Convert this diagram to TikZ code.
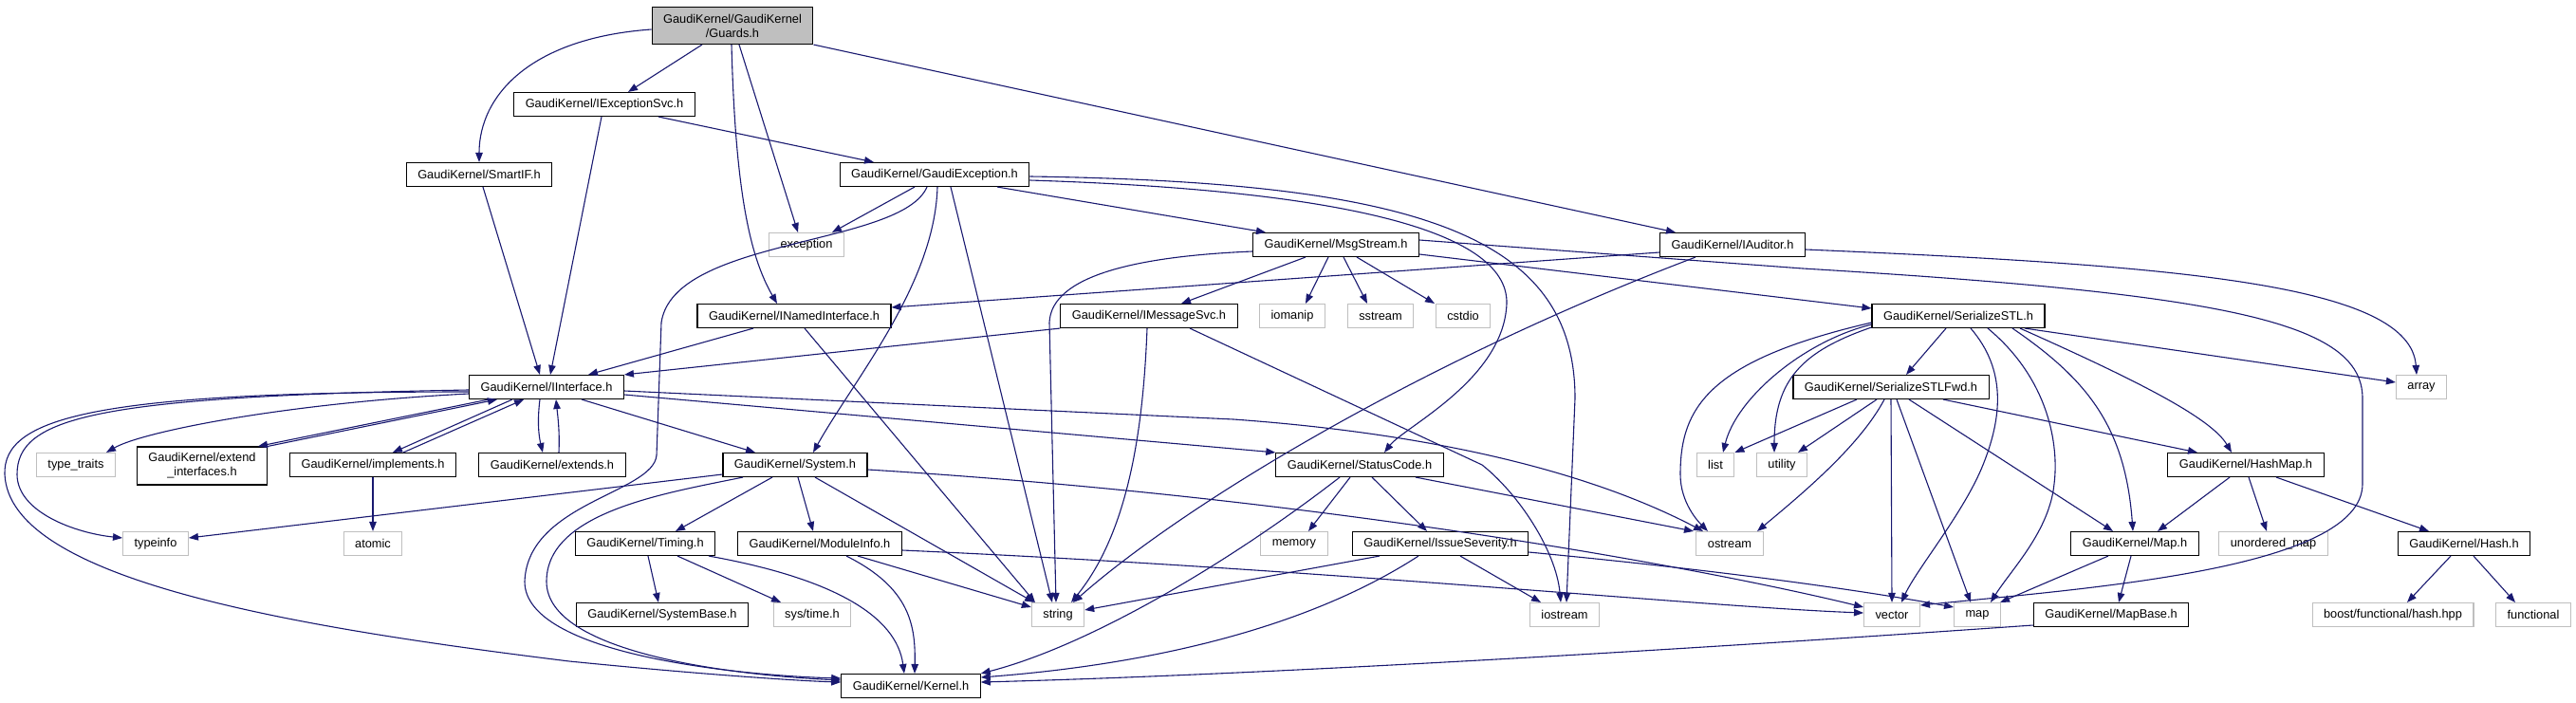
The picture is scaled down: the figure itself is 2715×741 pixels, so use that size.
\documentclass[tikz,border=0pt]{standalone}
\usepackage{fontspec}
\setmainfont{Liberation Sans}
\usetikzlibrary{arrows.meta}
\definecolor{edgec}{HTML}{191970}
\definecolor{gborder}{HTML}{BFBFBF}
\definecolor{gfill}{HTML}{BFBFBF}
\begin{document}
\begin{tikzpicture}[x=1pt,y=-1pt,
  nd/.style={draw=black, line width=1.1pt, fill=white, inner xsep=12pt, inner ysep=0pt, minimum height=25pt, font=\fontsize{12.8}{15}\selectfont, align=center},
  ext/.style={nd, draw=gborder},
  e/.style={draw=edgec, line width=1.1pt, -{Triangle[length=10pt,width=7.5pt]}}]
\fill[white] (0,0) rectangle (2715,741);
\useasboundingbox (0,0) rectangle (2715,741);
% nodes
\node[nd,fill=gfill,minimum height=39pt] (guards) at (772,27) {GaudiKernel/GaudiKernel\\/Guards.h};
\node[nd] (iexc) at (637,110) {GaudiKernel/IExceptionSvc.h};
\node[nd] (smartif) at (505,184) {GaudiKernel/SmartIF.h};
\node[nd] (gexc) at (985,184) {GaudiKernel/GaudiException.h};
\node[ext] (exception) at (850,258) {exception};
\node[nd] (msgstream) at (1408,258) {GaudiKernel/MsgStream.h};
\node[nd] (iauditor) at (1826,258) {GaudiKernel/IAuditor.h};
\node[nd] (inamed) at (837,333) {GaudiKernel/INamedInterface.h};
\node[nd] (imsgsvc) at (1211,333) {GaudiKernel/IMessageSvc.h};
\node[ext] (iomanip) at (1362,333) {iomanip};
\node[ext] (sstream) at (1455,333) {sstream};
\node[ext] (cstdio) at (1542,333) {cstdio};
\node[nd] (sstl) at (2064,333) {GaudiKernel/SerializeSTL.h};
\node[nd] (iinterface) at (576,408) {GaudiKernel/IInterface.h};
\node[nd] (sstlfwd) at (1993,408) {GaudiKernel/SerializeSTLFwd.h};
\node[ext] (array) at (2552,408) {array};
\node[ext] (typetraits) at (80,490) {type\_traits};
\node[nd,minimum height=40pt] (extendif) at (213,491) {GaudiKernel/extend\\\_interfaces.h};
\node[nd] (implements) at (393,490) {GaudiKernel/implements.h};
\node[nd] (extends) at (582,490) {GaudiKernel/extends.h};
\node[nd] (system) at (838,490) {GaudiKernel/System.h};
\node[nd] (statuscode) at (1433,490) {GaudiKernel/StatusCode.h};
\node[ext] (list) at (1808,490) {list};
\node[ext] (utility) at (1878,490) {utility};
\node[nd] (hashmap) at (2367,490) {GaudiKernel/HashMap.h};
\node[ext] (typeinfo) at (164,573) {typeinfo};
\node[ext] (atomic) at (393,573) {atomic};
\node[nd] (timing) at (680,573) {GaudiKernel/Timing.h};
\node[nd] (moduleinfo) at (864,573) {GaudiKernel/ModuleInfo.h};
\node[ext] (memory) at (1364,573) {memory};
\node[nd] (issuesev) at (1518,573) {GaudiKernel/IssueSeverity.h};
\node[ext] (ostream) at (1823,573) {ostream};
\node[nd] (maph) at (2250,573) {GaudiKernel/Map.h};
\node[ext] (unordered) at (2396,573) {unordered\_map};
\node[nd] (hash) at (2597,573) {GaudiKernel/Hash.h};
\node[nd] (systembase) at (698,648) {GaudiKernel/SystemBase.h};
\node[ext] (systime) at (856,648) {sys/time.h};
\node[ext] (string) at (1115,648) {string};
\node[ext] (iostream) at (1649,648) {iostream};
\node[ext] (vector) at (1994,648) {vector};
\node[ext] (mapstd) at (2084,648) {map};
\node[nd] (mapbase) at (2225,648) {GaudiKernel/MapBase.h};
\node[ext] (boost) at (2522,648) {boost/functional/hash.hpp};
\node[ext] (functional) at (2670,648) {functional};
\node[nd] (kernel) at (960,723) {GaudiKernel/Kernel.h};
% edges
\draw[e] ([yshift=-4pt]guards.west) .. controls (560,40) and (505,100) .. (smartif.north);
\draw[e] ([xshift=-32pt]guards.south) -- ([xshift=25pt]iexc.north);
\draw[e] ([xshift=-1pt]guards.south) .. controls (775,200) and (790,270) .. ([xshift=-18pt]inamed.north);
\draw[e] ([xshift=7pt]guards.south) -- ([xshift=-9pt]exception.north);
\draw[e] (guards.south east) -- ([xshift=-60pt]iauditor.north);
\draw[e] ([xshift=57pt]iexc.south) -- ([xshift=-64pt]gexc.north);
\draw[e] ([xshift=-3pt]iexc.south) -- ([xshift=4pt]iinterface.north);
\draw[e] ([xshift=4pt]smartif.south) -- ([xshift=-7pt]iinterface.north);
\draw[e] ([xshift=-21pt]gexc.south) -- ([xshift=27pt]exception.north);
\draw[e] ([xshift=-8pt]gexc.south) .. controls (950,260) and (710,250) .. (697,340) -- (692,480) .. controls (688,520) and (556,530) .. (553,613) .. controls (553,690) and (780,712) .. ([yshift=8pt]kernel.west);
\draw[e] ([xshift=66pt]gexc.south) -- ([xshift=-74pt]msgstream.north);
\draw[e] ([xshift=3pt]gexc.south) .. controls (985,300) and (900,400) .. ([xshift=19pt]system.north);
\draw[e] ([xshift=17pt]gexc.south) -- ([xshift=-6pt]string.north);
\draw[e] ([yshift=-6pt]gexc.east) .. controls (1400,200) and (1590,240) .. (1588,320) .. controls (1585,400) and (1480,450) .. ([xshift=26pt]statuscode.north);
\draw[e] ([yshift=-2pt]gexc.east) .. controls (1500,192) and (1660,250) .. (1660,420) -- ([xshift=2pt]iostream.north);
\draw[e] ([xshift=-32pt]msgstream.south) -- ([xshift=34pt]imsgsvc.north);
\draw[e] ([xshift=-8pt]msgstream.south) -- ([xshift=14pt]iomanip.north);
\draw[e] ([xshift=8pt]msgstream.south) -- ([xshift=-14pt]sstream.north);
\draw[e] ([xshift=22pt]msgstream.south) -- ([xshift=-30pt]cstdio.north);
\draw[e] ([yshift=-10pt]msgstream.east) -- ([yshift=8pt]sstl.west);
\draw[e] ([yshift=-7pt]msgstream.west) .. controls (1200,270) and (1108,290) .. (1106,340) -- ([xshift=-2pt]string.north);
\draw[e] ([yshift=5pt]msgstream.east) -- (1900,283) .. controls (2350,310) and (2490,340) .. (2490,420) -- (2490,510) .. controls (2490,600) and (2200,620) .. ([yshift=10pt]vector.east);
\draw[e] ([yshift=-5pt]iauditor.east) .. controls (2300,280) and (2540,300) .. ([xshift=-5pt]array.north);
\draw[e] ([yshift=-8pt]iauditor.west) -- ([yshift=9pt]inamed.east);
\draw[e] ([xshift=-39pt]iauditor.south) .. controls (1500,380) and (1250,530) .. ([xshift=16pt]string.north);
\draw[e] (imsgsvc.south west) -- (iinterface.north east);
\draw[e] ([xshift=-2pt]imsgsvc.south) .. controls (1205,450) and (1190,560) .. ([xshift=14pt]string.north);
\draw[e] ([xshift=43pt]imsgsvc.south) -- (1562,490) .. controls (1600,520) and (1640,580) .. ([xshift=-4pt]iostream.north);
\draw[e] ([xshift=-43pt]inamed.south) -- ([xshift=44pt]iinterface.north);
\draw[e] ([xshift=11pt]inamed.south) -- ([xshift=-24pt]string.north);
\draw[e] ([yshift=-7pt]iinterface.west) .. controls (300,425) and (150,455) .. ([xshift=32pt]typetraits.north);
\draw[e] ([yshift=-3pt]iinterface.west) .. controls (100,418) and (18,440) .. (18,500) .. controls (18,540) and (80,562) .. ([yshift=6pt]typeinfo.west);
\draw[e] ([yshift=-5pt]iinterface.west) .. controls (100,413) and (3,440) .. (5,500) .. controls (10,610) and (300,660) .. (600,697) .. controls (750,712) and (850,718) .. ([yshift=4pt]kernel.west);
\draw[e] ([xshift=-61pt]iinterface.south) -- ([xshift=59pt]extendif.north);
\draw[e] (extendif.north east) -- ([xshift=-52pt]iinterface.south);
\draw[e] ([xshift=-36pt]iinterface.south) -- ([xshift=21pt]implements.north);
\draw[e] ([xshift=32pt]implements.north) -- ([xshift=-24pt]iinterface.south);
\draw[e] ([xshift=-7pt]iinterface.south) .. controls (566,445) and (568,460) .. ([xshift=-10pt]extends.north);
\draw[e] ([xshift=7pt]extends.north) .. controls (590,455) and (588,440) .. ([xshift=10pt]iinterface.south);
\draw[e] (implements.south) -- (atomic.north);
\draw[e] ([xshift=37pt]iinterface.south) -- ([xshift=-42pt]system.north);
\draw[e] ([yshift=-8pt]iinterface.east) -- (statuscode.north west);
\draw[e] ([yshift=-4pt]iinterface.east) -- (1300,442) .. controls (1550,460) and (1700,510) .. ([xshift=-28pt]ostream.north);
\draw[e] ([yshift=-10pt]system.west) -- ([yshift=6pt]typeinfo.east);
\draw[e] ([xshift=-55pt]system.south) .. controls (700,520) and (576,540) .. (576,613) .. controls (576,690) and (780,712) .. ([yshift=6pt]kernel.west);
\draw[e] ([xshift=-24pt]system.south) -- ([xshift=32pt]timing.north);
\draw[e] ([xshift=3pt]system.south) -- ([xshift=-7pt]moduleinfo.north);
\draw[e] ([xshift=21pt]system.south) -- ([xshift=-25pt]string.north);
\draw[e] ([yshift=-5pt]system.east) .. controls (1400,525) and (1800,600) .. ([yshift=8pt]vector.west);
\draw[e] ([yshift=-7pt]moduleinfo.east) .. controls (1400,600) and (1800,640) .. ([yshift=2pt]vector.west);
\draw[e] ([xshift=3pt]timing.south) -- ([xshift=-4pt]systembase.north);
\draw[e] ([xshift=34pt]timing.south) -- ([xshift=-33pt]systime.north);
\draw[e] ([xshift=67pt]timing.south) .. controls (880,610) and (945,650) .. ([xshift=-7pt]kernel.north);
\draw[e] ([xshift=28pt]moduleinfo.south) .. controls (960,620) and (965,660) .. ([xshift=4pt]kernel.north);
\draw[e] ([xshift=40pt]moduleinfo.south) -- ([yshift=8pt]string.west);
\draw[e] ([xshift=-21pt]statuscode.south) .. controls (1300,590) and (1150,680) .. (kernel.north east);
\draw[e] ([xshift=-10pt]statuscode.south) -- ([xshift=15pt]memory.north);
\draw[e] ([xshift=13pt]statuscode.south) -- ([xshift=-14pt]issuesev.north);
\draw[e] ([xshift=59pt]statuscode.south) -- ([xshift=-38pt]ostream.north);
\draw[e] ([xshift=-64pt]issuesev.south) -- ([yshift=5pt]string.east);
\draw[e] ([xshift=-23pt]issuesev.south) .. controls (1350,680) and (1150,705) .. ([yshift=9pt]kernel.east);
\draw[e] ([xshift=21pt]issuesev.south) -- ([xshift=-25pt]iostream.north);
\draw[e] ([yshift=-9pt]issuesev.east) .. controls (1800,600) and (1950,620) .. ([yshift=8pt]mapstd.west);
\draw[e] ([yshift=-11pt]mapbase.west) .. controls (1700,690) and (1300,712) .. ([yshift=4pt]kernel.east);
\draw[e] ([xshift=-13pt]sstl.south) -- ([xshift=16pt]sstlfwd.north);
\draw[e] ([yshift=-9pt]sstl.west) .. controls (1900,360) and (1830,420) .. ([xshift=8pt]list.north);
\draw[e] ([yshift=-12pt]sstl.west) .. controls (1900,370) and (1870,400) .. ([xshift=-8pt]utility.north);
\draw[e] ([yshift=-7pt]sstl.west) .. controls (1800,380) and (1771,430) .. (1771,500) .. controls (1771,530) and (1790,550) .. ([xshift=-23pt]ostream.north);
\draw[e] ([xshift=13pt]sstl.south) .. controls (2115,390) and (2110,440) .. (2090,490) .. controls (2070,540) and (2020,600) .. ([xshift=10pt]vector.north);
\draw[e] ([xshift=31pt]sstl.south) .. controls (2160,400) and (2170,470) .. (2165,510) .. controls (2160,560) and (2120,600) .. ([xshift=14pt]mapstd.north);
\draw[e] ([xshift=57pt]sstl.south) .. controls (2200,400) and (2240,450) .. ([xshift=-2pt]maph.north);
\draw[e] ([xshift=65pt]sstl.south) .. controls (2250,400) and (2330,440) .. ([xshift=-15pt]hashmap.north);
\draw[e] ([xshift=70pt]sstl.south) -- ([yshift=5pt]array.west);
\draw[e] ([xshift=-36pt]sstlfwd.south) -- (list.north east);
\draw[e] ([xshift=-15pt]sstlfwd.south) -- ([xshift=17pt]utility.north);
\draw[e] ([xshift=-7pt]sstlfwd.south) .. controls (1960,470) and (1900,520) .. ([xshift=29pt]ostream.north);
\draw[e] (sstlfwd.south) -- (vector.north);
\draw[e] ([xshift=6pt]sstlfwd.south) -- ([xshift=-7pt]mapstd.north);
\draw[e] ([xshift=19pt]sstlfwd.south) -- ([xshift=-23pt]maph.north);
\draw[e] ([xshift=55pt]sstlfwd.south) -- ([xshift=-51pt]hashmap.north);
\draw[e] ([xshift=-17pt]hashmap.south) -- ([xshift=24pt]maph.north);
\draw[e] ([xshift=3pt]hashmap.south) -- ([xshift=-7pt]unordered.north);
\draw[e] ([xshift=32pt]hashmap.south) -- ([xshift=-37pt]hash.north);
\draw[e] ([xshift=-28pt]maph.south) -- ([xshift=24pt]mapstd.north);
\draw[e] ([xshift=-4pt]maph.south) -- ([xshift=8pt]mapbase.north);
\draw[e] ([xshift=-14pt]hash.south) -- ([xshift=15pt]boost.north);
\draw[e] ([xshift=10pt]hash.south) -- ([xshift=-19pt]functional.north);
\end{tikzpicture}
\end{document}
